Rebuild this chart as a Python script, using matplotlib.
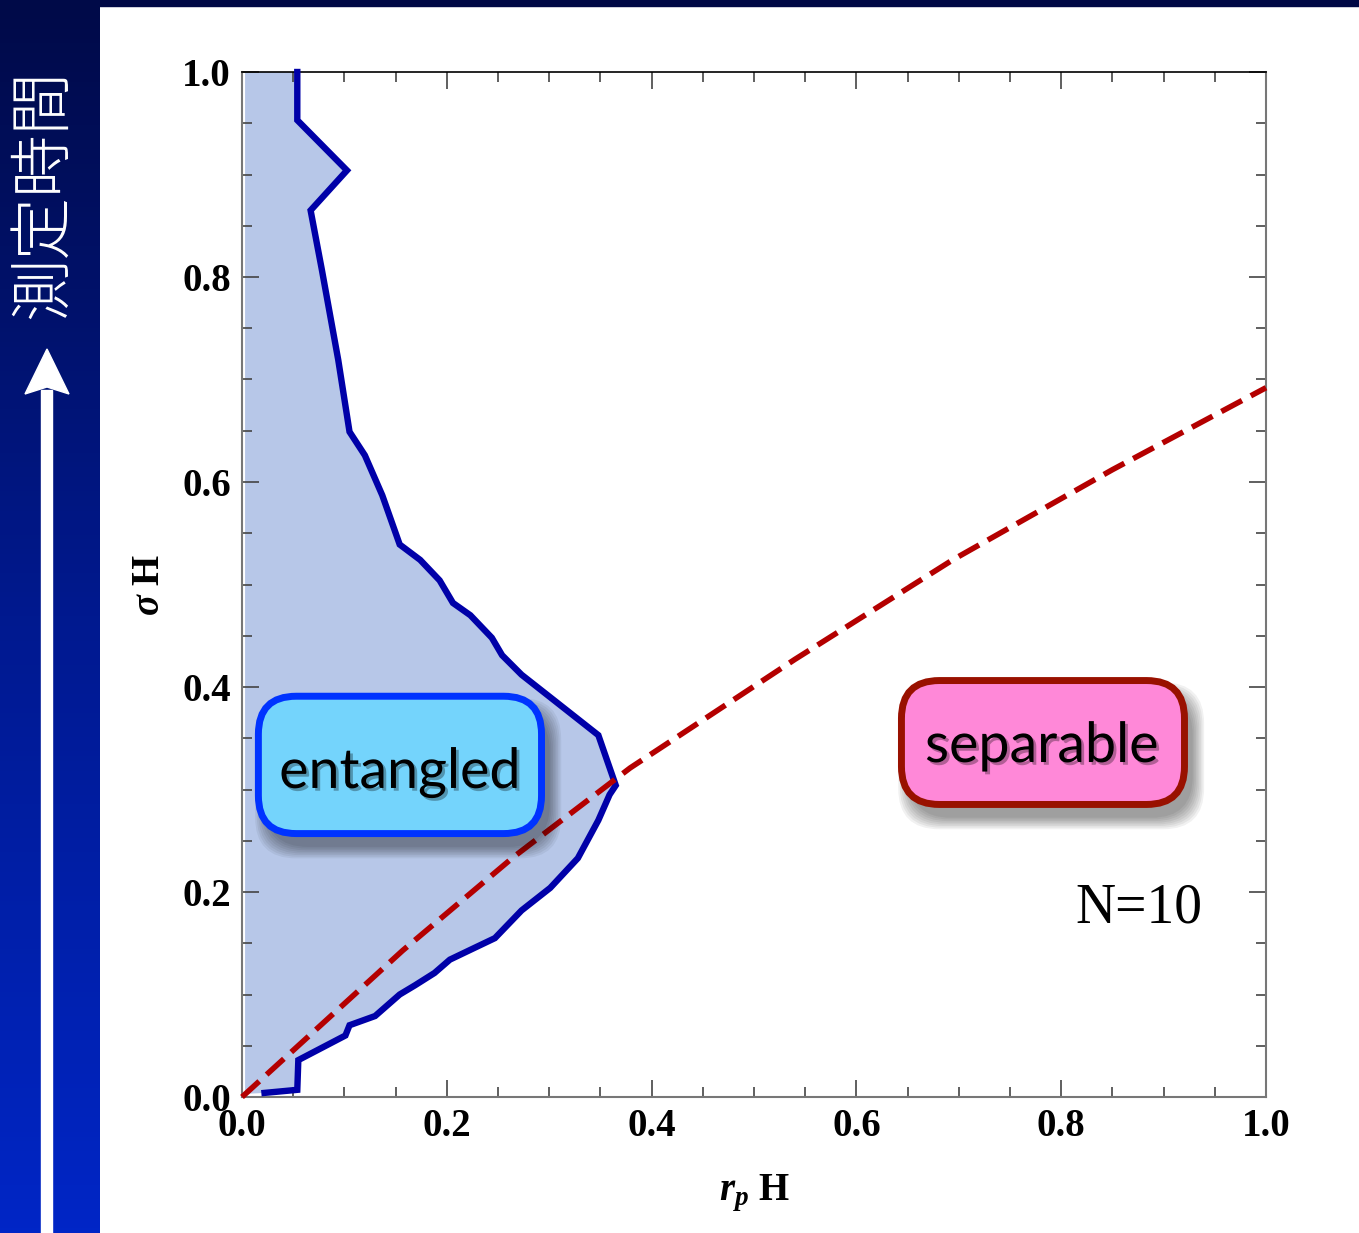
import numpy as np
import matplotlib.pyplot as plt
from matplotlib.patches import FancyBboxPatch, Rectangle, Polygon
from matplotlib.colors import LinearSegmentedColormap
import matplotlib.patheffects as pe

plt.rcParams['font.family'] = ['Liberation Serif', 'DejaVu Sans']
plt.rcParams['mathtext.fontset'] = 'custom'
plt.rcParams['mathtext.rm'] = 'Liberation Serif:bold'
plt.rcParams['mathtext.it'] = 'Liberation Serif:italic:bold'
plt.rcParams['mathtext.bf'] = 'Liberation Serif:bold'

# boundary of the entangled region (r_p H, sigma H), traced top to bottom
bound_x = [0.054, 0.054, 0.1025, 0.067, 0.078, 0.094, 0.105, 0.120, 0.137,
           0.154, 0.174, 0.193, 0.206, 0.223, 0.244, 0.254, 0.273, 0.301,
           0.348, 0.357, 0.365, 0.359, 0.348, 0.328, 0.301, 0.273, 0.247,
           0.226, 0.203, 0.188, 0.169, 0.154, 0.130, 0.105, 0.101, 0.055,
           0.054, 0.022]
bound_y = [1.000, 0.953, 0.904, 0.865, 0.807, 0.719, 0.649, 0.626, 0.587,
           0.539, 0.524, 0.504, 0.482, 0.470, 0.448, 0.431, 0.412, 0.390,
           0.353, 0.327, 0.304, 0.295, 0.270, 0.233, 0.204, 0.182, 0.155,
           0.145, 0.134, 0.121, 0.109, 0.100, 0.079, 0.070, 0.060, 0.036,
           0.007, 0.004]

# separability criterion (dashed)
crit_x = [0.0, 0.157, 0.265, 0.379, 0.540, 0.694, 0.850, 1.0]
crit_y = [0.0, 0.143, 0.234, 0.321, 0.427, 0.524, 0.612, 0.692]

xticks = [0.0, 0.2, 0.4, 0.6, 0.8, 1.0]
yticks = [0.0, 0.2, 0.4, 0.6, 0.8, 1.0]

W, H = 1359, 1233
fig = plt.figure(figsize=(W / 100, H / 100), dpi=100)
fig.patch.set_facecolor('white')

# side panel with the time arrow
side = fig.add_axes([0, 0, 100 / W, 1])
side.set_xlim(0, 100)
side.set_ylim(H, 0)
side.axis('off')
cmap = LinearSegmentedColormap.from_list('navy', ['#000a48', '#00198f', '#0026c6'])
side.imshow(np.linspace(0, 1, 256)[:, None], cmap=cmap, aspect='auto',
            extent=[0, 100, H, 0], zorder=0)
side.add_patch(Rectangle((41, 390), 11, H - 390, color='white', zorder=2))
side.add_patch(Polygon([(25, 394), (47, 349), (69, 394), (47, 387)],
                       closed=True, color='white', zorder=2))
side.text(44, 194, '測定時間', rotation=90, color='white', fontsize=45,
          family=['Noto Sans CJK JP', 'DejaVu Sans'], fontweight='light',
          ha='center', va='center')

# dark strip along the top edge
fig.patches.append(Rectangle((0, 1 - 6 / H), 1, 6 / H, transform=fig.transFigure,
                             color='#000845', zorder=-1))

ax = fig.add_axes([242 / W, 136 / H, 1024 / W, 1025 / H])
ax.set_xlim(0, 1)
ax.set_ylim(0, 1)

poly_x = [0.003] + bound_x + [0.003]
poly_y = [1.0] + bound_y + [0.003]
ax.fill(poly_x, poly_y, color='#b7c7e8', lw=0, zorder=1)
ax.plot(bound_x, bound_y, color='#0000a8', lw=4.6, solid_joinstyle='miter',
        zorder=3, clip_on=False)
ax.plot(crit_x, crit_y, color='#b40000', lw=4.0, dashes=(4.2, 1.8), zorder=4,
        clip_on=False)

ax.set_xticks(xticks)
ax.set_yticks(yticks)
ax.set_xticks(np.arange(0, 1.001, 0.05), minor=True)
ax.set_yticks(np.arange(0, 1.001, 0.05), minor=True)
ax.set_xticklabels(['%.1f' % t for t in xticks])
ax.set_yticklabels(['%.1f' % t for t in yticks])
ax.tick_params(which='both', direction='in', top=True, right=True,
               color='#444444', width=1.2)
ax.tick_params(which='major', length=12, labelsize=28, pad=8)
ax.tick_params(which='minor', length=7)
for lab in ax.get_xticklabels() + ax.get_yticklabels():
    lab.set_fontweight('bold')
for s in ['left', 'right', 'bottom']:
    ax.spines[s].set_color('#777777')
    ax.spines[s].set_linewidth(1.5)
ax.spines['top'].set_color('black')
ax.spines['top'].set_linewidth(1.2)

ax.set_xlabel(r'$r_p$ H', fontsize=28, fontweight='bold', labelpad=20)
ax.set_ylabel(r'$\sigma$ H', fontsize=28, fontweight='bold', labelpad=10)


def label_box(x0, y0, w, h, face, edge, text, tx, ty):
    # soft drop shadow built from stacked translucent boxes
    for k in range(8):
        grow = 0.0016 * k
        sh = FancyBboxPatch((x0 + 0.008 - grow, y0 - 0.013 - grow),
                            w + 2 * grow, h + 2 * grow,
                            boxstyle='round,pad=0,rounding_size=0.04',
                            fc='black', ec='none', alpha=0.055, zorder=5)
        ax.add_patch(sh)
    box = FancyBboxPatch((x0, y0), w, h,
                         boxstyle='round,pad=0,rounding_size=0.037',
                         fc=face, ec=edge, lw=5, zorder=6)
    ax.add_patch(box)
    ax.text(tx, ty, text, fontsize=40, family=['Lato', 'DejaVu Sans'],
            ha='center', va='baseline', color='black', zorder=7,
            path_effects=[pe.withSimplePatchShadow(offset=(2, -2), alpha=0.3)])


label_box(0.016, 0.257, 0.2765, 0.134, '#74d4fc', '#0033ff',
          'entangled', 0.154, 0.3015)
label_box(0.644, 0.2854, 0.2764, 0.1209, '#ff88d8', '#991100',
          'separable', 0.781, 0.3268)

ax.text(0.876, 0.1707, 'N=10', fontsize=40, ha='center', va='baseline',
        color='black', zorder=7)

fig.savefig('out.png', dpi=100)
